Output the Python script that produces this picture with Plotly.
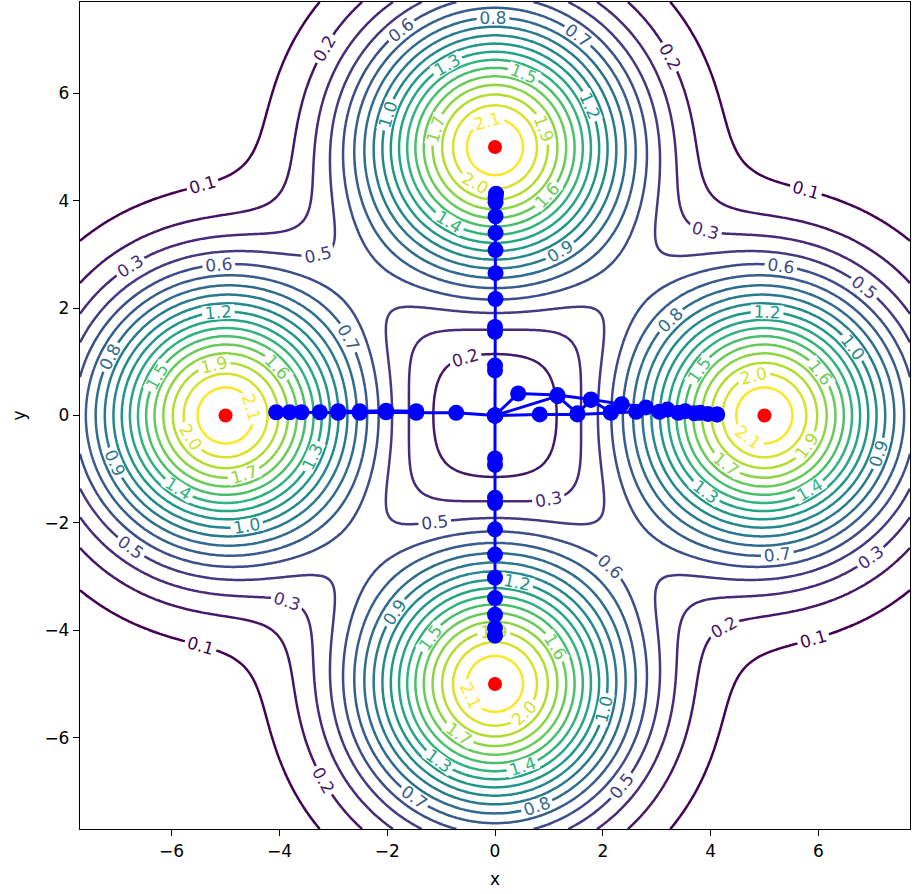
import numpy as np
import plotly.graph_objects as go

# ---- field parameters (four bumps) ----
PEAK_X = [5.0, 0.0, -5.0, 0.0]
PEAK_Y = [0.0, 5.0, 0.0, -5.0]
PEAK_HEIGHT = 2.2
PEAK_WIDTH = 1.7
GRID_MIN, GRID_MAX, GRID_N = -7.7, 7.7, 301

# ---- contour levels: 18 levels from 0.1 to 2.1 ----
LEVEL_START = 0.1
LEVEL_END = 2.1
LEVEL_COUNT = 18
LEVEL_STEP = (LEVEL_END - LEVEL_START) / (LEVEL_COUNT - 1)

# ---- trajectories ----
RUN_UP_X = [0.0, 0.0, 0.0, 0.0, 0.0, 0.01, 0.01, 0.01, 0.01, 0.01, 0.01, 0.01, 0.02]
RUN_UP_Y = [0.0, 0.84, 0.93, 1.56, 1.65, 2.17, 2.65, 3.08, 3.40, 3.71, 3.97, 4.06, 4.13]
RUN_DOWN_X = [0.0, 0.0, 0.0, 0.0, 0.0, 0.0, 0.0, 0.0, 0.0, 0.0, 0.0, 0.0]
RUN_DOWN_Y = [0.0, -0.80, -0.92, -1.53, -1.63, -2.12, -2.59, -3.02, -3.40, -3.71, -3.96, -4.10]
RUN_LEFT_X = [0.0, -0.72, -1.46, -2.02, -2.51, -2.91, -3.25, -3.59, -3.81, -4.06]
RUN_LEFT_Y = [0.0, 0.05, 0.05, 0.06, 0.05, 0.05, 0.06, 0.06, 0.06, 0.06]
RUN_LEFT_B_X = [-1.46, -2.02, -2.51, -2.91]
RUN_LEFT_B_Y = [0.08, 0.09, 0.08, 0.08]
RUN_RIGHT_A_X = [0.0, 0.43, 1.16, 1.78, 2.35, 2.80, 3.20, 3.53, 3.81, 4.12]
RUN_RIGHT_A_Y = [0.0, 0.41, 0.38, 0.30, 0.21, 0.15, 0.11, 0.08, 0.05, 0.02]
RUN_RIGHT_B_X = [0.0, 0.83, 1.53, 2.15, 2.62, 3.05, 3.40, 3.70, 3.95, 4.12]
RUN_RIGHT_B_Y = [0.0, 0.02, 0.02, 0.05, 0.07, 0.07, 0.05, 0.04, 0.03, 0.02]
RUN_RIGHT_C_X = [0.0, 1.16, 1.53, 1.78, 2.15]
RUN_RIGHT_C_Y = [0.0, 0.36, 0.04, 0.29, 0.06]

CENTER_X = PEAK_X
CENTER_Y = PEAK_Y

X_TICKS = [-6, -4, -2, 0, 2, 4, 6]
Y_TICKS = [-6, -4, -2, 0, 2, 4, 6]

gx = np.linspace(GRID_MIN, GRID_MAX, GRID_N)
gy = np.linspace(GRID_MIN, GRID_MAX, GRID_N)
XX, YY = np.meshgrid(gx, gy)
Z = np.zeros_like(XX)
for px, py in zip(PEAK_X, PEAK_Y):
    Z += PEAK_HEIGHT * np.exp(-((XX - px) ** 2 + (YY - py) ** 2) / (2 * PEAK_WIDTH ** 2))

FONT = "DejaVu Sans"
FS = 17

fig = go.Figure()
fig.add_trace(go.Contour(
    x=gx, y=gy, z=Z,
    colorscale="Viridis", zmin=0.0, zmax=2.25,
    showscale=False,
    contours=dict(coloring="lines", start=LEVEL_START, end=LEVEL_END + 1e-6, size=LEVEL_STEP,
                  showlabels=True, labelformat=".1f",
                  labelfont=dict(family=FONT, size=FS)),
    line=dict(width=2.5, smoothing=1.0),
    hoverinfo="skip",
))

runs = [(RUN_UP_X, RUN_UP_Y), (RUN_DOWN_X, RUN_DOWN_Y), (RUN_LEFT_X, RUN_LEFT_Y),
        (RUN_LEFT_B_X, RUN_LEFT_B_Y), (RUN_RIGHT_C_X, RUN_RIGHT_C_Y),
        (RUN_RIGHT_A_X, RUN_RIGHT_A_Y), (RUN_RIGHT_B_X, RUN_RIGHT_B_Y)]
for rx, ry in runs:
    fig.add_trace(go.Scatter(x=rx, y=ry, mode="lines+markers",
                             line=dict(color="blue", width=3),
                             marker=dict(color="blue", size=16),
                             showlegend=False, hoverinfo="skip"))

fig.add_trace(go.Scatter(x=CENTER_X, y=CENTER_Y, mode="markers",
                         marker=dict(color="red", size=14),
                         showlegend=False, hoverinfo="skip"))

axis_common = dict(
    range=[GRID_MIN, GRID_MAX], showgrid=False, zeroline=False,
    showline=True, linecolor="black", linewidth=1.3, mirror=True,
    ticks="outside", ticklen=6, tickwidth=1.3, tickcolor="black",
    tickfont=dict(family=FONT, size=FS, color="black"),
)
fig.update_xaxes(**axis_common, tickvals=X_TICKS,
                 title=dict(text="x", font=dict(family=FONT, size=FS, color="black"), standoff=13))
fig.update_yaxes(**axis_common, tickvals=Y_TICKS,
                 title=dict(text="y", font=dict(family=FONT, size=FS, color="black"), standoff=14))

fig.update_layout(
    width=914, height=894,
    margin=dict(l=80, r=4, t=2, b=65),
    plot_bgcolor="white", paper_bgcolor="white",
    font=dict(family=FONT, size=FS, color="black"),
    showlegend=False,
)
fig.write_html("out.html", config={"displayModeBar": False},
               post_script="document.body.style.margin='0px';")
